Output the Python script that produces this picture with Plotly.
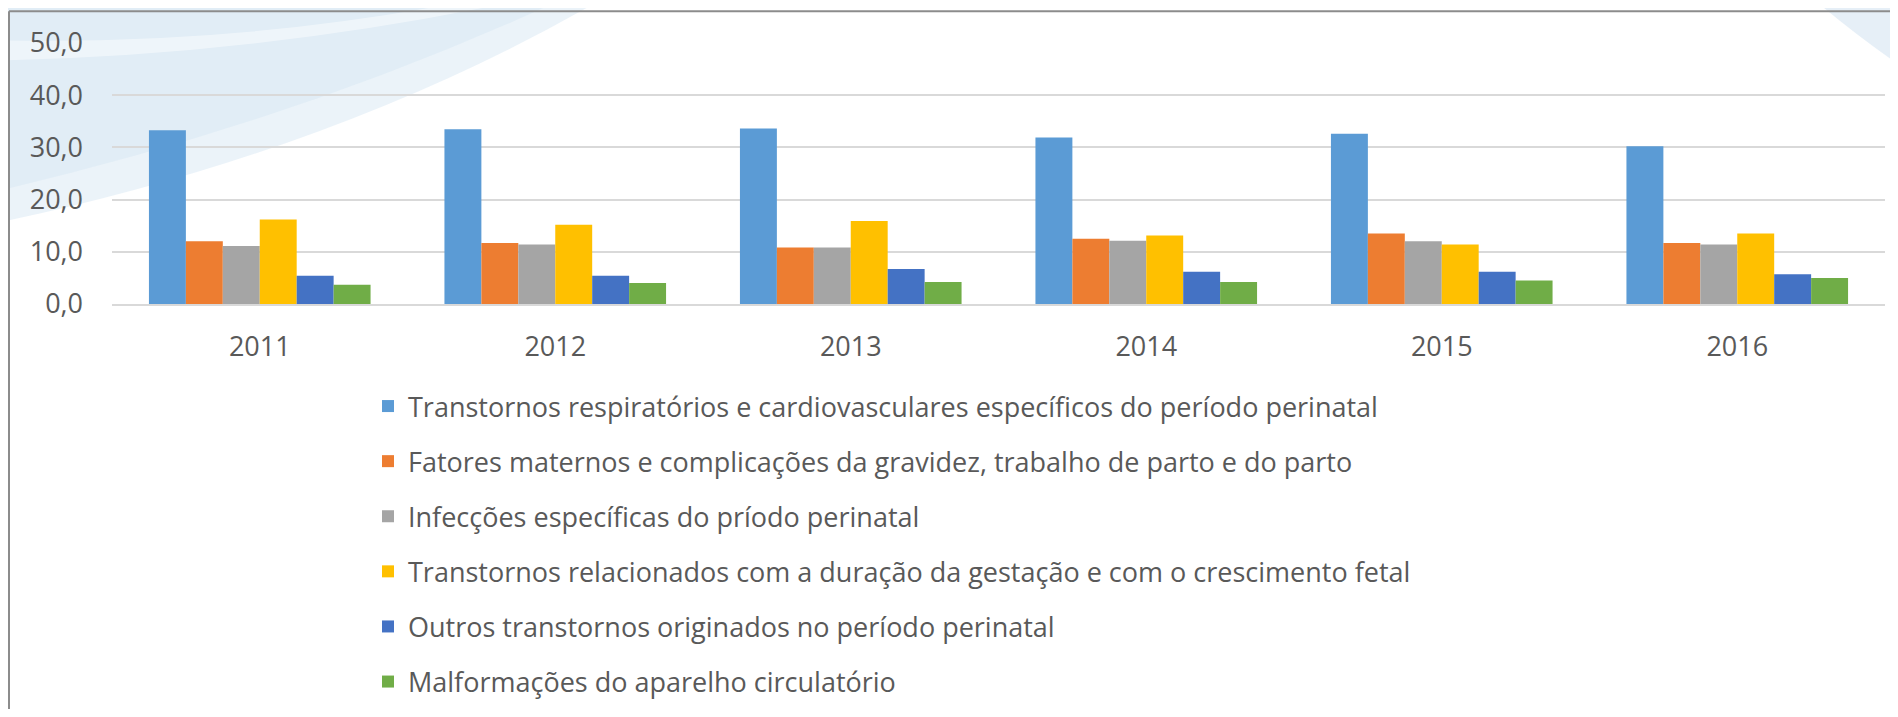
import plotly.graph_objects as go

years = ["2011", "2012", "2013", "2014", "2015", "2016"]

series_names = [
    "Transtornos respiratórios e cardiovasculares específicos do período perinatal",
    "Fatores maternos e complicações da gravidez, trabalho de parto e do parto",
    "Infecções específicas do príodo perinatal",
    "Transtornos relacionados com a duração da gestação e com o crescimento fetal",
    "Outros transtornos originados no período perinatal",
    "Malformações do aparelho circulatório",
]

respiratorios = [33.3, 33.5, 33.6, 31.9, 32.6, 30.2]
fatores_maternos = [12.0, 11.7, 10.8, 12.5, 13.5, 11.7]
infeccoes = [11.1, 11.4, 10.8, 12.1, 12.0, 11.4]
duracao_gestacao = [16.2, 15.2, 15.9, 13.1, 11.4, 13.5]
outros = [5.4, 5.4, 6.7, 6.2, 6.2, 5.7]
malformacoes = [3.7, 4.0, 4.2, 4.2, 4.5, 5.0]

series_values = [respiratorios, fatores_maternos, infeccoes, duracao_gestacao, outros, malformacoes]
colors = ["#5B9BD5", "#ED7D31", "#A5A5A5", "#FFC000", "#4472C4", "#70AD47"]

y_ticks = [0, 10, 20, 30, 40, 50]

# page is 1898x717; the html body has an 8px margin, so the figure is
# sized to fit inside it and page coordinates are shifted by O.
O = 8
PW, PH = 1898, 717
W, H = PW - 2 * O, PH - 2 * O
# plot area in page pixels
PL, PR, PT, PB = 112, 1885, 42.7, 303.7
L, R, T, B = PL - O, PR - O, PT - O, PB - O

fig = go.Figure()
for i, (name, vals, col) in enumerate(zip(series_names, series_values, colors)):
    fig.add_trace(go.Bar(
        x=years, y=vals, name=name, marker_color=col,
        marker_line_width=0, legendgroup=f"g{i}",
    ))


def px(x):
    return (x - O - L) / (R - L)


def py(y):
    return (B - (y - O)) / (B - T)


def path(points_cmds):
    out = []
    for cmd in points_cmds:
        if isinstance(cmd, str):
            out.append(cmd)
        else:
            out.append(f"{px(cmd[0]):.5f},{py(cmd[1]):.5f}")
    return " ".join(out)


shapes = []
# decorative background swooshes (page pixel coordinates), layered for a soft fade
shapes.append(dict(type="path", xref="paper", yref="paper", layer="below",
                   path=path(["M", (0, 0), "L", (600, 0), "Q", (340, 150), (0, 222), "Z"]),
                   fillcolor="rgba(210,228,242,0.45)", line_width=0))
shapes.append(dict(type="path", xref="paper", yref="paper", layer="below",
                   path=path(["M", (0, 0), "L", (560, 0), "Q", (300, 120), (0, 190), "Z"]),
                   fillcolor="rgba(205,225,240,0.35)", line_width=0))
shapes.append(dict(type="path", xref="paper", yref="paper", layer="below",
                   path=path(["M", (0, 60), "Q", (260, 55), (520, 0), "L", (470, 0),
                              "Q", (240, 45), (0, 40), "Z"]),
                   fillcolor="rgba(255,255,255,0.45)", line_width=0))
shapes.append(dict(type="path", xref="paper", yref="paper", layer="below",
                   path=path(["M", (1815, 0), "L", (1898, 0), "L", (1898, 64), "Q", (1850, 30), (1815, 0), "Z"]),
                   fillcolor="rgba(205,224,240,0.5)", line_width=0))
# frame
shapes.append(dict(type="line", xref="paper", yref="paper", layer="above",
                   x0=px(9), x1=px(1898), y0=py(11), y1=py(11),
                   line=dict(color="#8c8c8c", width=2)))
shapes.append(dict(type="line", xref="paper", yref="paper", layer="above",
                   x0=px(9), x1=px(9), y0=py(11), y1=py(717),
                   line=dict(color="#8c8c8c", width=2)))

font_family = "Open Sans, Noto Sans, sans-serif"
fig.update_layout(
    width=W, height=H,
    margin=dict(l=L, r=W - R, t=T, b=H - B, pad=0, autoexpand=False),
    paper_bgcolor="white", plot_bgcolor="rgba(0,0,0,0)",
    separators=",.",
    barmode="group", bargap=0.25, bargroupgap=0,
    font=dict(family=font_family, size=27, color="#595959"),
    shapes=shapes,
    showlegend=True,
    legend=dict(
        xref="container", yref="container",
        x=360 / W, xanchor="left",
        y=1 - 374 / H, yanchor="top",
        font=dict(size=27, color="#595959"),
        tracegroupgap=17, bgcolor="rgba(0,0,0,0)",
        traceorder="grouped",
    ),
)
fig.update_xaxes(showgrid=False, showline=True, linecolor="#D9D9D9", linewidth=2,
                 ticks="", ticklabelstandoff=18, tickfont=dict(size=27, color="#595959"))
fig.update_yaxes(range=[0, 50], tickvals=y_ticks, tickformat=".1f",
                 showgrid=True, gridcolor="#D9D9D9", gridwidth=2,
                 zeroline=False, showline=False, ticks="",
                 ticklabelstandoff=28, tickfont=dict(size=27, color="#595959"))

fig.write_html("out.html")
